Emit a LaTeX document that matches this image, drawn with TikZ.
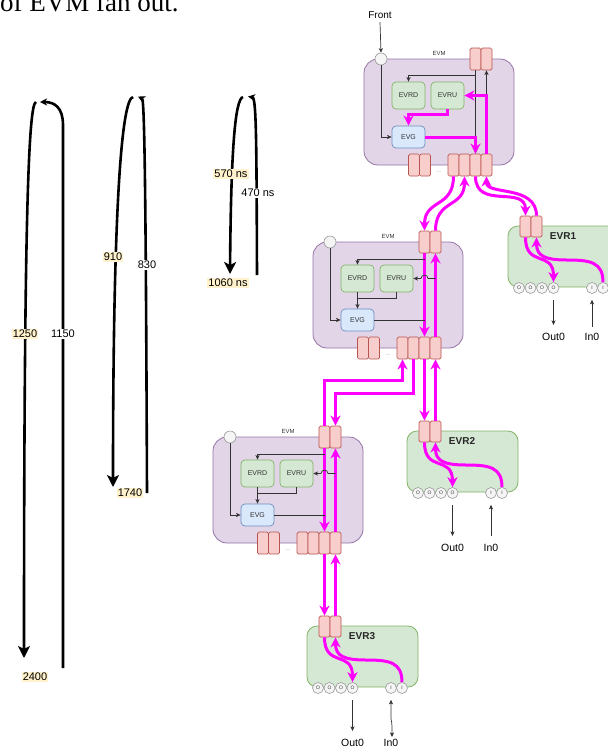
\documentclass[tikz,border=0pt]{standalone}
\usepackage{fontspec}
\setmainfont{Liberation Sans}
\newfontfamily\capserif{Liberation Serif}
\usetikzlibrary{arrows.meta,calc}
\definecolor{mag}{HTML}{FF00FF}
\definecolor{evmfill}{HTML}{E1D5E7}
\definecolor{evmdraw}{HTML}{9673A6}
\definecolor{portfill}{HTML}{F8CECC}
\definecolor{portdraw}{HTML}{B85450}
\definecolor{grfill}{HTML}{D5E8D4}
\definecolor{grdraw}{HTML}{82B366}
\definecolor{blfill}{HTML}{DAE8FC}
\definecolor{bldraw}{HTML}{6C8EBF}
\definecolor{pinfill}{HTML}{F5F5F5}
\definecolor{pindraw}{HTML}{999999}
\definecolor{lnk}{HTML}{333333}
\definecolor{hl}{HTML}{FFF2CC}
\newcommand\fsz[1]{\fontsize{#1}{#1}\selectfont}
\tikzset{
 evmbox/.style={draw=evmdraw, fill=evmfill, rounded corners=14pt, line width=0.8pt, minimum width=150pt, minimum height=106pt, inner sep=0pt},
 evrbox/.style={draw=grdraw, fill=grfill, rounded corners=10pt, line width=0.8pt, minimum width=111pt, minimum height=61pt, inner sep=0pt},
 port/.style={draw=portdraw, fill=portfill, rounded corners=1.5pt, line width=0.7pt, minimum width=11pt, minimum height=22pt, inner sep=0pt},
 gblk/.style={draw=grdraw, fill=grfill, rounded corners=4pt, line width=0.7pt, minimum width=33pt, minimum height=27pt, inner sep=0pt, font=\fsz{7}, text=lnk},
 bblk/.style={draw=bldraw, fill=blfill, rounded corners=4pt, line width=0.7pt, minimum width=33pt, minimum height=22pt, inner sep=0pt, font=\fsz{7}, text=lnk},
 iopin/.style={circle, draw=pindraw, fill=pinfill, line width=0.6pt, minimum size=11pt, inner sep=0pt, font=\fsz{5}, text=lnk},
 gl/.style={draw=lnk, line width=0.7pt},
 garr/.style={-{Stealth[length=4.5pt,width=4pt,inset=1pt]}},
 mg/.style={draw=mag, line width=3pt},
 marr/.style={-{Stealth[length=10pt,width=10pt,inset=3pt]}},
 arcl/.style={draw=black, line width=2.6pt},
 bigarr/.style={-{Stealth[length=12pt,width=12pt,inset=3pt]}},
 smarr/.style={-{Stealth[length=7pt,width=7pt,inset=2pt]}},
 lbl/.style={font=\fsz{11}, inner sep=1pt, fill=white},
 lbly/.style={lbl, fill=hl},
 iolbl/.style={font=\fsz{10.5}, inner sep=1pt},
}
\newcommand\evmframe[3]{%
\begin{scope}[shift={(#2,#3)}]
 \node[evmbox] (#1box) at (439,112) {};
 \node[font=\fsz{6}, text=lnk] (#1lbl) at (439,53) {EVM};
 \node[port] (#1t1) at (475.5,59) {};
 \node[port] (#1t2) at (486.5,59) {};
 \node[gblk] (#1rd) at (408.5,95.5) {EVRD};
 \node[gblk] (#1ru) at (447.5,95.5) {EVRU};
 \node[bblk] (#1g) at (408.5,137) {EVG};
 \node[port] (#1l1) at (414,165) {};
 \node[port] (#1l2) at (425,165) {};
 \node[font=\fsz{5}, text=gray] (#1dots) at (439,172) {...};
 \node[port] (#1b1) at (453.5,165) {};
 \node[port] (#1b2) at (464.5,165) {};
 \node[port] (#1b3) at (475.5,165) {};
 \node[port] (#1b4) at (486.5,165) {};
 \node[iopin, minimum size=12pt] (#1in) at (381,59) {};
\end{scope}}
\newcommand\evmwires[1]{%
 \draw[mg,marr] (#1t1.south) -- (#1b3.north);
 \draw[mg,marr] (#1b4.north) -- (#1t2.south);
 \draw[gl,garr] ($(#1t1.south)+(0,6)$) -| (#1rd.north);
 \draw[gl,garr] (#1rd.south) -- (#1g.north);
 \draw[gl] (#1ru.south) |- ($(#1rd.south)+(0,6)$);
 \draw[gl,garr] (#1in.south) |- (#1g.west);
 \draw[gl] (#1g.east) -- (#1g.east -| #1t1.south);
 \draw[gl,garr] (#1ru.east -| #1t2.south) -- ($(#1ru.east -| #1t1.south)+(3.5,0)$) .. controls +(0,-4.5) and +(0,-4.5) .. ++(-7,0) -- (#1ru.east);
}
\newcommand\evrframe[5]{%
\begin{scope}[shift={(#2,#3)}]
 \node[evrbox] (#1box) at (563.5,256.5) {};
 \node[port, minimum height=21pt] (#1p1) at (525.5,226.5) {};
 \node[port, minimum height=21pt] (#1p2) at (536.5,226.5) {};
 \node[font=\bfseries\fsz{10}, text=black!85] (#1lbl) at (563,236) {#4};
 \node[iopin] (#1o1) at (519,288) {O};
 \node[iopin] (#1o2) at (530.5,288) {O};
 \node[iopin] (#1o3) at (542,288) {O};
 \node[iopin] (#1o4) at (553.5,288) {O};
 \node[iopin] (#1i1) at (592,288) {I};
 \node[iopin] (#1i2) at (603,288) {I};
 \node[iolbl] (#1out) at (553.5,288+#5) {Out0};
 \node[iolbl] (#1inl) at (592,288+#5) {In0};
 \draw[mg,marr] (#1p1.south) .. controls (525.5,268) and (553.5,250) .. (#1o4.north);
 \draw[mg,marr] (#1i2.north) .. controls (603,262) and (590,260) .. (567,260) .. controls (545,260) and (536.5,256) .. (#1p2.south);
\end{scope}
 \draw[gl,garr] ($(#1o4.south)+(0,6)$) -- ($(#1out.center)+(0,-12)$);
}
\begin{document}
\begin{tikzpicture}[x=1pt,y=-1pt]
\useasboundingbox (0,0) rectangle (608,748);
\node[anchor=base west, inner sep=0pt, font=\capserif\fsz{27}] (cap) at (0,11) {of EVM fan out.};

% ---------- left timing arcs ----------
\coordinate (a1r) at (63,668);
\coordinate (a1t) at (40,102);
\coordinate (a1s) at (36,102);
\coordinate (a1l) at (24,658);
\draw[arcl,smarr] (a1r) -- (63,125) .. controls (63,108) and (55,102) .. (a1t);
\draw[arcl,bigarr] (a1s) .. controls (29,104) and (24,200) .. (a1l);
\node[lbly] (n1250) at (25,334) {1250};
\node[lbl] (n1150) at (63,334) {1150};
\node[lbly] (n2400) at (35,677) {2400};

\coordinate (a2r) at (147,493);
\coordinate (a2t) at (138,96.5);
\coordinate (a2s) at (133,97);
\coordinate (a2l) at (113,487);
\draw[arcl,smarr] (a2r) .. controls (146,250) and (145,100) .. (a2t);
\draw[arcl,bigarr] (a2s) .. controls (122,99) and (113,200) .. (a2l);
\node[lbly] (n910) at (113,257) {910};
\node[lbl] (n830) at (147,265) {830};
\node[lbly] (n1740) at (130,493) {1740};

\coordinate (a3r) at (257,275);
\coordinate (a3t) at (248,96.5);
\coordinate (a3s) at (243,97);
\coordinate (a3l) at (230,274);
\draw[arcl,smarr] (a3r) .. controls (256.5,150) and (256.5,98) .. (a3t);
\draw[arcl,bigarr] (a3s) .. controls (235,99) and (231,150) .. (a3l);
\node[lbly] (n570) at (231,174) {570 ns};
\node[lbl] (n470) at (258,193) {470 ns};
\node[lbly] (n1060) at (228,283) {1060 ns};

% ---------- EVM modules ----------
\evmframe{A}{0}{0}
\evmframe{B}{-51}{183}
\evmframe{C}{-151}{378}

% EVM1 internal wiring
\draw[gl,garr] (At1.south) -- (Ab3.north);
\draw[gl,garr] ($(At1.south)+(0,5)$) -| (Ard.north);
\draw[gl,garr] (Ab4.north) -- (At2.south);
\draw[gl,garr] (Ain.south) |- (Ag.west);
\draw[mg,marr] (Ab4.north) |- (Aru.east);
\draw[mg,marr] (Aru.south) -- ++(0,5) -| (Ag.north);
\draw[mg,marr] (Ag.east) -| (Ab3.north);

\evmwires{B}
\evmwires{C}

% Front input
\node[font=\fsz{10}] (front) at (380,15) {Front};
\draw[gl,garr] (front.south) -- (Ain.north);

% ---------- EVR modules ----------
\evrframe{R}{0}{0}{EVR1}{49}
\evrframe{S}{-101}{205}{EVR2}{55}
\evrframe{T}{-201}{400}{EVR3}{55}
\draw[gl,garr] ($(Rinl.center)+(0,-10)$) -- ($(Ri1.south)+(0,6)$);
\draw[gl,garr] ($(Sinl.center)+(0,-12)$) -- ($(Si1.south)+(0,6)$);
\draw[gl,{Stealth[length=4.5pt,width=4pt,inset=1pt]}-{Stealth[length=4.5pt,width=4pt,inset=1pt]}] ($(Ti1.south)+(0,6)$) -- ++(0,19) .. controls +(1.5,2) and +(-1,-3) .. ++(1,8) -- ($(Tinl.center)+(1,-6)$);

% ---------- links between modules ----------
\draw[mg,marr] (Ab1.south) .. controls +(0,32) and +(0,-32) .. (Bt1.north);
\draw[mg,marr] (Bt2.north) .. controls +(0,-32) and +(0,32) .. (Ab2.south);
\draw[mg,marr] (Ab3.south) .. controls +(0,34) and +(0,-31) .. (Rp1.north);
\draw[mg,marr] (Rp2.north) .. controls +(0,-31) and +(0,19) .. (Ab4.south);

\draw[mg,marr] (Ct1.north) -- ++(0,-45) -| (Bb1.south);
\draw[mg,marr] (Bb2.south) -- ++(0,34) -| (Ct2.north);
\draw[mg,marr] (Bb3.south) -- (Sp1.north);
\draw[mg,marr] (Sp2.north) -- (Bb4.south);
\draw[mg,marr] (Cb3.south) -- (Tp1.north);
\draw[mg,marr] (Tp2.north) -- (Cb4.south);
\end{tikzpicture}
\end{document}
